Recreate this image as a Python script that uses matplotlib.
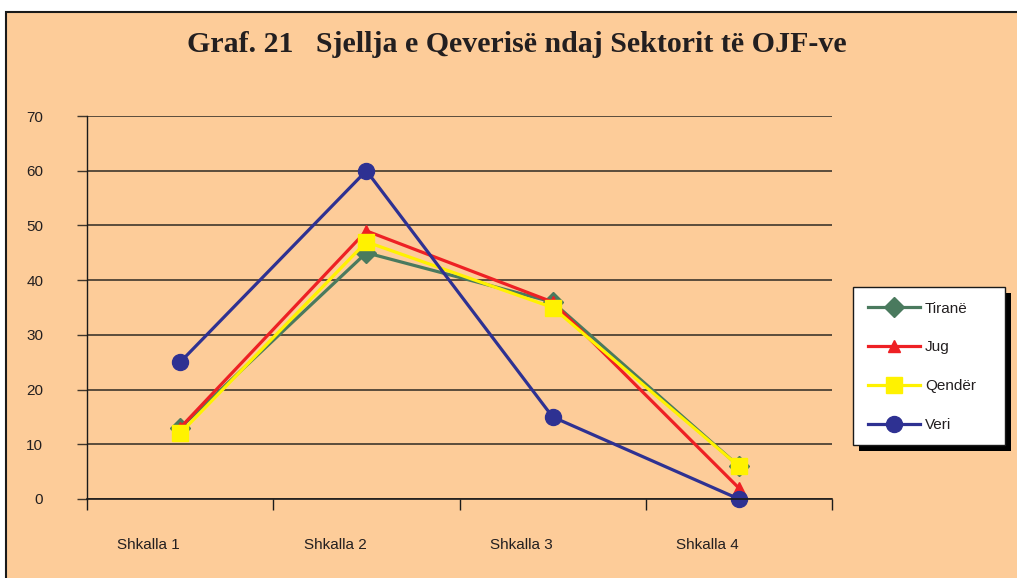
import matplotlib
matplotlib.use("Agg")
import matplotlib.pyplot as plt
from matplotlib.patches import Rectangle
from matplotlib.ticker import FixedLocator
import matplotlib.patheffects as pe

categories = ["Shkalla 1", "Shkalla 2", "Shkalla 3", "Shkalla 4"]
series_names = ["Tiranë", "Jug", "Qendër", "Veri"]
tirane = [13, 45, 36, 6]
jug = [13, 49, 36, 2]
qender = [12, 47, 35, 6]
veri = [25, 60, 15, 0]
yticks = [0, 10, 20, 30, 40, 50, 60, 70]
title = "Graf. 21   Sjellja e Qeverisë ndaj Sektorit të OJF-ve"

NARROW = ["Liberation Sans Narrow", "Liberation Sans", "DejaVu Sans"]

W, H = 1017, 578
fig = plt.figure(figsize=(W / 100, H / 100), dpi=100, facecolor="white")
bg = "#fdcc99"
fig.patches.append(Rectangle((6 / W, -0.1), 1.2, (H - 12) / H + 0.1, transform=fig.transFigure,
                             facecolor=bg, edgecolor="#1a1a1a", linewidth=1.5, zorder=-10))

# legend box with shadow (drawn beneath the axes layer)
lx0, ly0, lx1, ly1 = 853, 287, 1005, 445
box = Rectangle((lx0 / W, 1 - ly1 / H), (lx1 - lx0) / W, (ly1 - ly0) / H, transform=fig.transFigure,
                facecolor="white", edgecolor="#1a1a1a", linewidth=1.0, zorder=-5)
box.set_path_effects([pe.SimplePatchShadow(offset=(4, -4), shadow_rgbFace="black", alpha=1), pe.Normal()])
fig.patches.append(box)

ax = fig.add_axes([87 / W, 1 - 499 / H, (832 - 87) / W, (499 - 116) / H])
ax.set_facecolor("none")

x = list(range(len(categories)))
styles = [
    (tirane, "#4a7a5e", "D", 10, 2.3),
    (jug, "#ee2024", "^", 9, 2.3),
    (qender, "#fff200", "s", 11, 2.3),
    (veri, "#2e3192", "o", 11.5, 2.3),
]
for (vals, col, mk, ms, lw), name in zip(styles, series_names):
    ax.plot(x, vals, color=col, marker=mk, markersize=ms, linewidth=lw, label=name,
            markeredgecolor=col, clip_on=False)

ax.set_xlim(-0.5, 3.5)
ax.set_ylim(0, 70)
ax.set_yticks(yticks)
ax.yaxis.grid(True, color="#3f362c", linewidth=1.2)
ax.set_axisbelow(True)
for s in ["top", "right"]:
    ax.spines[s].set_visible(False)
ax.spines["left"].set_color("#1a1a1a")
ax.spines["bottom"].set_color("#1a1a1a")
ax.spines["left"].set_linewidth(1.0)
ax.spines["bottom"].set_linewidth(1.2)

ax.set_xticks(x)
ax.set_xticklabels(categories, fontfamily=NARROW, fontsize=11, ha="right", color="#231f20")
ax.tick_params(axis="x", which="major", length=0, pad=28)
ax.xaxis.set_minor_locator(FixedLocator([-0.5, 0.5, 1.5, 2.5, 3.5]))
ax.tick_params(axis="x", which="minor", length=8, width=1, color="#1a1a1a", direction="out")
ax.tick_params(axis="y", length=7.5, width=1, color="#3f362c", pad=24, labelsize=11, labelcolor="#231f20")
for lbl in ax.get_yticklabels():
    lbl.set_fontfamily(NARROW)

fig.text(517 / W, 1 - 45 / H, title, ha="center", va="center", fontsize=21.5,
         fontweight="bold", fontfamily="Liberation Serif", color="#231f20")

leg = ax.legend(loc="upper left", bbox_to_anchor=(863 / W, 1 - 297 / H), bbox_transform=fig.transFigure,
                frameon=False, prop={"family": NARROW, "size": 11},
                handlelength=3.4, labelspacing=1.63, borderpad=0.3, handletextpad=0.35, borderaxespad=0)
for t in leg.get_texts():
    t.set_color("#231f20")

fig.savefig("out.png", dpi=100, facecolor="white")
